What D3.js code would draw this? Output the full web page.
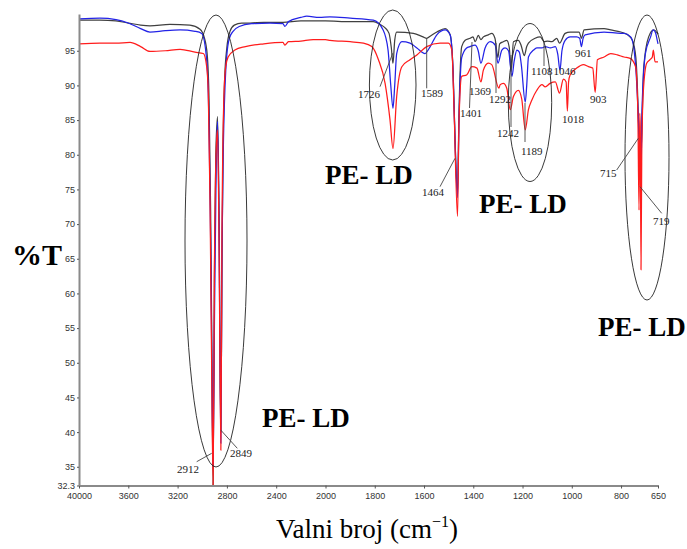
<!DOCTYPE html>
<html><head><meta charset="utf-8">
<script src="https://cdn.jsdelivr.net/npm/d3@7"></script>
<style>body{margin:0;background:#fff}svg{display:block}</style>
</head><body><svg id="c" width="687" height="549"></svg>
<script>
// ---------- DATA ----------
const xTickValues = [4000,3600,3200,2800,2400,2000,1800,1600,1400,1200,1000,800,650];
const xTickLabels = ["40000","3600","3200","2800","2400","2000","1800","1600","1400","1200","1000","800","650"];
const yTickValues = [32.3,35,40,45,50,55,60,65,70,75,80,85,90,95];
const yTickLabels = ["32.3","35","40","45","50","55","60","65","70","75","80","85","90","95"];

const blackSeries = [
[4000,99.4],[3830,99.4],[3700,99.3],[3600,99.0],[3500,98.7],[3424,98.6],[3262,98.8],[3100,98.7],[3018,98.1],[2985,97.0],[2960,94.5],[2945,88],[2932,72],[2921,50],[2912,32.3],[2902,62],[2890,80],[2876,85.5],[2864,72],[2849,40],[2841,62],[2832,80],[2818,91],[2800,95.5],[2775,97.8],[2740,98.7],[2680,99.0],[2613,99.0],[2500,99.1],[2345,99.1],[2200,99.3],[2000,99.3],[1900,99.2],[1806,99.2],[1779,98.8],[1758,98.3],[1742,97.5],[1733,95.5],[1726,93.2],[1719,96.5],[1711,97.7],[1643,97.5],[1604,97.0],[1589,96.8],[1575,97.1],[1548,97.7],[1514,98.2],[1494,97.3],[1482,92],[1474,82],[1464,74.5],[1458,86],[1447,95.6],[1433,96.5],[1413,96.8],[1401,97.0],[1392,96.3],[1380,97.2],[1369,96.6],[1359,97.0],[1339,97.3],[1325,97.5],[1312,96.8],[1300,94.0],[1293,96.0],[1278,96.3],[1264,96.5],[1254,95.5],[1246,92.0],[1237,96.3],[1217,96.5],[1206,95.8],[1193,94.3],[1183,95.6],[1176,96.1],[1149,96.8],[1128,97.0],[1112,96.3],[1099,96.4],[1081,96.3],[1061,96.8],[1050,96.1],[1027,97.5],[1007,97.7],[970,97.7],[961,96.8],[950,98.0],[869,98.2],[842,98.0],[801,97.7],[774,97.3],[754,96.5],[740,94.0],[732,88.0],[728,83.0],[721,79.5],[717,82.0],[708,92.6],[688,97.0],[667,98.0],[654,97.6],[650,97.4]
];
const blueSeries = [
[4000,99.6],[3830,99.7],[3700,99.5],[3600,99.0],[3500,98.2],[3424,97.7],[3300,97.9],[3180,98.0],[3059,97.8],[3004,97.5],[2964,93.7],[2945,84],[2932,68],[2921,48],[2912,35.0],[2901,56],[2889,75],[2876,84.8],[2864,70],[2849,38.4],[2840,66],[2830,80],[2815,90],[2800,94.5],[2780,96.8],[2750,97.8],[2700,98.5],[2600,98.9],[2450,99.0],[2345,98.9],[2330,98.5],[2300,99.2],[2200,99.8],[2152,100.0],[2050,99.8],[1982,99.9],[1900,99.7],[1806,99.4],[1766,98.0],[1746,95.1],[1735,90.0],[1726,86.7],[1719,90.0],[1711,94.6],[1690,96.3],[1657,96.1],[1629,95.4],[1596,94.6],[1575,95.6],[1548,97.3],[1514,98.0],[1494,97.3],[1482,92.0],[1474,82.0],[1464,73.8],[1458,85.0],[1447,94.0],[1427,95.4],[1413,95.6],[1393,95.8],[1380,95.0],[1369,93.2],[1352,95.4],[1331,96.3],[1311,95.8],[1300,93.2],[1284,95.1],[1271,95.4],[1257,95.0],[1243,91.3],[1234,93.5],[1223,95.1],[1213,94.8],[1205,93.0],[1189,87.6],[1183,90.0],[1176,94.1],[1155,95.1],[1142,95.4],[1121,95.4],[1108,95.6],[1087,95.4],[1067,95.6],[1057,94.5],[1048,92.2],[1040,95.0],[1027,96.5],[1007,97.0],[980,97.0],[968,96.8],[961,95.6],[954,96.8],[946,97.3],[869,97.7],[801,97.5],[788,97.5],[761,97.0],[749,95.6],[738,91.3],[728,84.0],[724,80.7],[719,77.8],[715,86.5],[701,94.6],[680,97.0],[670,98.0],[660,97.6],[653,96.5],[650,96.0]
];
const redSeries = [
[4000,96.0],[3830,96.1],[3700,96.1],[3586,96.2],[3500,95.6],[3424,94.9],[3300,95.0],[3180,95.2],[3059,94.8],[2991,94.6],[2964,92.7],[2951,88.9],[2937,73.5],[2925,52],[2912,32.3],[2900,66],[2888,80],[2876,83.6],[2864,68],[2849,37.4],[2840,68.7],[2825,87.9],[2810,92.7],[2790,94.1],[2735,95.1],[2650,95.6],[2500,96.0],[2345,96.2],[2330,95.8],[2300,96.3],[2200,96.4],[2100,96.6],[2000,96.6],[1982,96.5],[1900,96.3],[1846,96.1],[1812,95.6],[1785,93.7],[1758,90.3],[1738,85.0],[1726,80.9],[1711,88.4],[1690,92.7],[1657,93.7],[1629,94.4],[1589,95.6],[1535,96.1],[1501,96.1],[1487,95.1],[1478,86.5],[1464,71.1],[1458,85.0],[1447,91.3],[1427,91.5],[1406,92.7],[1385,92.5],[1369,90.5],[1359,92.2],[1339,93.2],[1325,93.0],[1296,89.6],[1291,90.1],[1278,90.3],[1264,89.6],[1250,86.5],[1237,88.4],[1217,89.3],[1203,88.0],[1189,83.6],[1176,86.5],[1162,87.9],[1142,89.3],[1121,90.1],[1108,89.8],[1088,90.3],[1067,90.5],[1050,88.9],[1034,90.9],[1023,90.5],[1018,86.3],[1013,90.5],[1007,91.5],[980,92.5],[953,93.0],[932,92.7],[915,92.5],[905,89.0],[896,93.7],[869,94.1],[842,94.6],[815,94.4],[788,94.1],[763,93.9],[741,92.7],[732,86.5],[727,72.0],[724,86.0],[722,84.0],[719,63.4],[716,80.0],[710,88.9],[696,93.2],[683,93.7],[673,94.1],[669,95.1],[662,93.4],[650,93.4]
];

const peakLabels = ["2912","2849","1726","1589","1464","1401","1369","1292","1242","1189","1108","1046","1018","961","903","715","719"];
const bandLabel = "PE- LD";
const yTitle = "%T";
const xTitleMain = "Valni broj (cm";
const xTitleSup = "\u22121";
const xTitleEnd = ")";

// ---------- DRAWING ----------
const svg = d3.select("#c");
const x = d3.scaleLinear().domain([4000,2000,650]).range([79,325.5,658]);
const y = d3.scaleLinear().domain([32.3,100.3]).range([485.5,14]);

svg.append("defs").append("clipPath").attr("id","clip")
  .append("rect").attr("x",79).attr("y",10).attr("width",581).attr("height",476);

const line = d3.line().x(d=>x(d[0])).y(d=>y(d[1])).curve(d3.curveMonotoneX);
const plot = svg.append("g").attr("clip-path","url(#clip)");
[[blackSeries,"#404040"],[blueSeries,"#2323e6"],[redSeries,"#ff1c1c"]].forEach(([s,c])=>{
  plot.append("path").datum(s).attr("d",line).attr("fill","none")
    .attr("stroke",c).attr("stroke-width",1.25).attr("stroke-linejoin","round");
});

// axes
const xAxis = d3.axisBottom(x).tickValues(xTickValues)
  .tickFormat((d,i)=>xTickLabels[i]).tickSizeInner(3).tickSizeOuter(0).tickPadding(4);
const gx = svg.append("g").attr("transform","translate(0,485.5)").call(xAxis);
gx.select(".domain").attr("stroke","#8a8a8a").attr("stroke-width",2);
gx.selectAll(".tick line").attr("stroke","#555");
gx.selectAll("text").attr("font-family","Liberation Sans, Arial, sans-serif").attr("font-size",9).attr("fill","#333");

const yAxis = d3.axisLeft(y).tickValues(yTickValues)
  .tickFormat((d,i)=>yTickLabels[i]).tickSizeInner(2).tickSizeOuter(0).tickPadding(2);
const gy = svg.append("g").attr("transform","translate(79,0)").call(yAxis);
gy.select(".domain").attr("stroke","#8a8a8a").attr("stroke-width",2);
gy.selectAll(".tick line").attr("stroke","#555");
gy.selectAll("text").attr("font-family","Liberation Sans, Arial, sans-serif").attr("font-size",9).attr("fill","#333");

// ellipses
const ellipses = [[216,241,31,226],[392.7,85,23.3,75],[530,102.5,21.7,79],[647,157.5,22,142.5]];
svg.selectAll("ellipse.e").data(ellipses).join("ellipse")
  .attr("cx",d=>d[0]).attr("cy",d=>d[1]).attr("rx",d=>d[2]).attr("ry",d=>d[3])
  .attr("fill","none").attr("stroke","#222").attr("stroke-width",0.9);

// peak labels: [x, baseline, leader x1,y1,x2,y2]
const peakLayout = [
 [177,473,196.7,461.7,211.7,453.3],
 [230,457,220.7,430,237.3,448.3],
 [358,98,380,86.7,392.7,53.3],
 [421,97,426.7,38.3,426.7,88.3],
 [422,196,440,186.7,455,158.3],
 [460,117,469.5,108,472,42],
 [469,95,null],
 [489,103,496,43,496,93],
 [497,137,511,55,511,127],
 [521,155,525,103,525,142],
 [531,75,544,42,544,66],
 [553.5,75,null],
 [562,123,null],
 [575,57,null],
 [590,103,null],
 [600,177,616.7,170,638.3,138.3],
 [653,225,640,186.7,661.7,213.3]
];
peakLabels.forEach((t,i)=>{
  const p = peakLayout[i];
  if(p[2]!=null){
    svg.append("line").attr("x1",p[2]).attr("y1",p[3]).attr("x2",p[4]).attr("y2",p[5])
      .attr("stroke","#444").attr("stroke-width",0.9);
  }
  svg.append("text").attr("x",p[0]).attr("y",p[1]).text(t)
    .attr("font-family","Liberation Serif, Times New Roman, serif").attr("font-size",11).attr("fill","#222");
});

// band labels
const bandPos = [[325,184],[479,213],[598,336],[262,427]];
bandPos.forEach(p=>{
  svg.append("text").attr("x",p[0]).attr("y",p[1]).text(bandLabel)
    .attr("font-family","Liberation Serif, Times New Roman, serif").attr("font-weight","bold")
    .attr("font-size",27).attr("fill","#000");
});

// y title
svg.append("text").attr("x",12).attr("y",265).text(yTitle)
  .attr("font-family","Liberation Serif, Times New Roman, serif").attr("font-weight","bold")
  .attr("font-size",30).attr("fill","#000");

// x title
const xt = svg.append("text").attr("x",367).attr("y",538).attr("text-anchor","middle")
  .attr("font-family","Liberation Serif, Times New Roman, serif").attr("font-size",27).attr("fill","#000");
xt.append("tspan").text(xTitleMain);
xt.append("tspan").attr("dy",-11).attr("font-size",16).text(xTitleSup);
xt.append("tspan").attr("dy",11).text(xTitleEnd);
</script></body></html>
